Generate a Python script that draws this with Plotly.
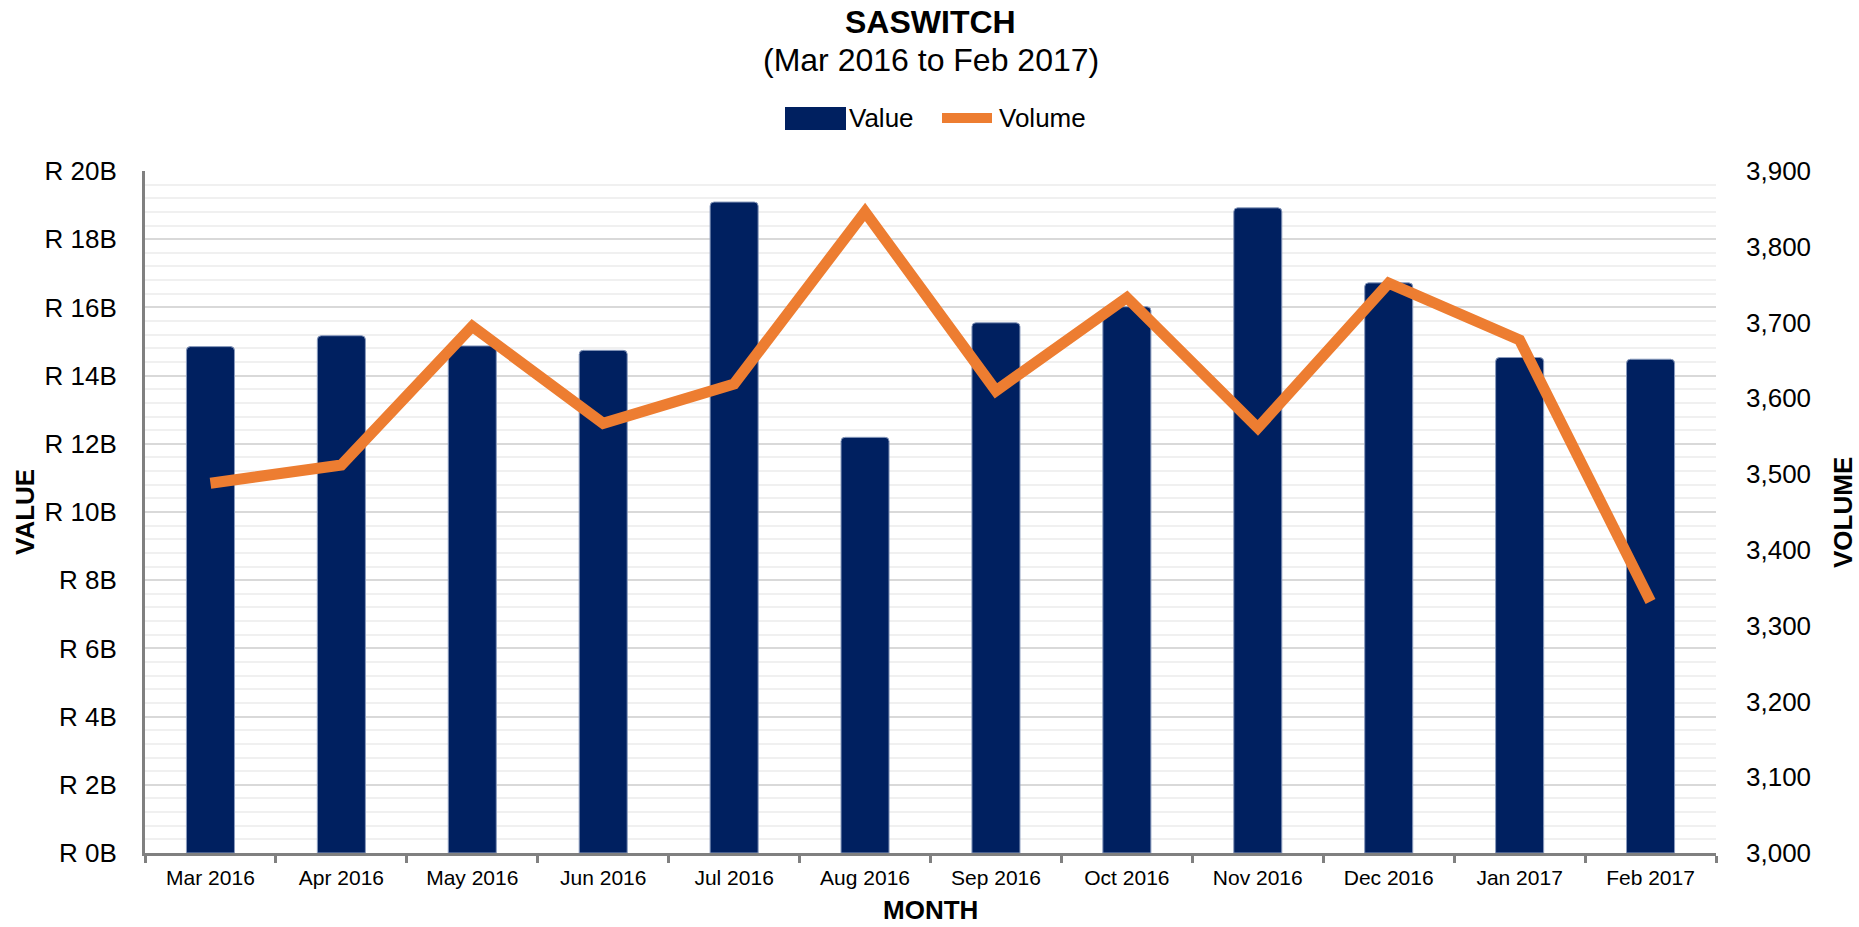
import plotly.graph_objects as go

months = ["Mar 2016", "Apr 2016", "May 2016", "Jun 2016", "Jul 2016", "Aug 2016",
          "Sep 2016", "Oct 2016", "Nov 2016", "Dec 2016", "Jan 2017", "Feb 2017"]
value_bn = [14.85, 15.17, 14.87, 14.74, 19.09, 12.19, 15.55, 16.02, 18.92, 16.72, 14.53, 14.48]
volume = [3488, 3512, 3695, 3567, 3619, 3846, 3610, 3733, 3561, 3752, 3677, 3332]

left_tickvals_bn = [0, 2, 4, 6, 8, 10, 12, 14, 16, 18, 20]
left_ticktext = ["R 0B", "R 2B", "R 4B", "R 6B", "R 8B", "R 10B", "R 12B", "R 14B", "R 16B", "R 18B", "R 20B"]
right_tickvals = [3000, 3100, 3200, 3300, 3400, 3500, 3600, 3700, 3800, 3900]

title_text = "SASWITCH"
subtitle_text = "(Mar 2016 to Feb 2017)"

FONT = "Liberation Sans, Arial, sans-serif"
NAVY = "#002060"
ORANGE = "#ED7D31"
AXIS_GREY = "#808080"

W, H = 1859, 927
L, R, T, B = 145, 143, 171, 74
PW, PH = W - L - R, H - T - B

def px(x):
    return (x - L) / PW

def py(y):
    return (H - B - y) / PH

value = [v * 1e9 for v in value_bn]
left_tickvals = [v * 1e9 for v in left_tickvals_bn]

fig = go.Figure()
fig.add_trace(go.Bar(
    x=months, y=value, name="Value",
    marker=dict(color=NAVY, cornerradius=4, line=dict(color="#8a9bbd", width=1)),
    width=0.367, yaxis="y", showlegend=False,
))
fig.add_trace(go.Scatter(
    x=months, y=volume, name="Volume", mode="lines",
    line=dict(color=ORANGE, width=11),
    yaxis="y2", showlegend=False,
))

fig.update_layout(
    width=W, height=H,
    margin=dict(l=L, r=R, t=T, b=B, autoexpand=False),
    paper_bgcolor="white", plot_bgcolor="white",
    font=dict(family=FONT, color="black", size=26),
    bargap=0.633,
    xaxis=dict(
        type="category", showline=True, linecolor=AXIS_GREY, linewidth=3,
        ticks="outside", tickson="boundaries", ticklen=7, tickwidth=3, tickcolor=AXIS_GREY,
        tickfont=dict(size=21), showgrid=False, automargin=False,
        ticklabelstandoff=4,
    ),
    yaxis=dict(
        range=[0, 20e9], tickvals=left_tickvals, ticktext=left_ticktext,
        showline=True, linecolor=AXIS_GREY, linewidth=3,
        showgrid=True, gridcolor="#d9d9d9", gridwidth=2,
        minor=dict(dtick=0.4e9, showgrid=True, gridcolor="#f0f0f0", gridwidth=2),
        zeroline=False, ticks="", tickfont=dict(size=26),
        ticklabelstandoff=20, automargin=False,
    ),
    yaxis2=dict(
        range=[3000, 3900], tickvals=right_tickvals, tickformat=",",
        overlaying="y", side="right", showgrid=False, showline=False,
        zeroline=False, ticks="", tickfont=dict(size=26),
        ticklabelstandoff=29, automargin=False,
    ),
)

annotations = [
    dict(text="<b>" + title_text + "</b>", x=0.5, xref="paper", y=py(22), yref="paper",
         xanchor="center", yanchor="middle", showarrow=False, font=dict(size=32)),
    dict(text=subtitle_text, x=0.5, xref="paper", y=py(60), yref="paper",
         xanchor="center", yanchor="middle", showarrow=False, font=dict(size=32)),
    dict(text="<b>VALUE</b>", x=px(25), xref="paper", y=0.5, yref="paper",
         xanchor="center", yanchor="middle", textangle=-90, showarrow=False, font=dict(size=26)),
    dict(text="<b>VOLUME</b>", x=px(1843), xref="paper", y=0.5, yref="paper",
         xanchor="center", yanchor="middle", textangle=-90, showarrow=False, font=dict(size=26)),
    dict(text="<b>MONTH</b>", x=0.5, xref="paper", y=py(910), yref="paper",
         xanchor="center", yanchor="middle", showarrow=False, font=dict(size=26)),
    dict(text="Value", x=px(847), xref="paper", y=py(118), yref="paper",
         xanchor="left", yanchor="middle", showarrow=False, font=dict(size=26)),
    dict(text="Volume", x=px(997), xref="paper", y=py(118), yref="paper",
         xanchor="left", yanchor="middle", showarrow=False, font=dict(size=26)),
]
fig.update_layout(annotations=annotations)

shapes = [
    dict(type="rect", xref="paper", yref="paper", x0=px(785), x1=px(846), y0=py(130), y1=py(107),
         fillcolor=NAVY, line=dict(width=0)),
    dict(type="line", xref="paper", yref="paper", x0=px(942), x1=px(992), y0=py(118), y1=py(118),
         line=dict(color=ORANGE, width=10)),
]
fig.update_layout(shapes=shapes)

fig.write_html("out.html", config={"displayModeBar": False},
               post_script="document.body.style.margin='0';")
